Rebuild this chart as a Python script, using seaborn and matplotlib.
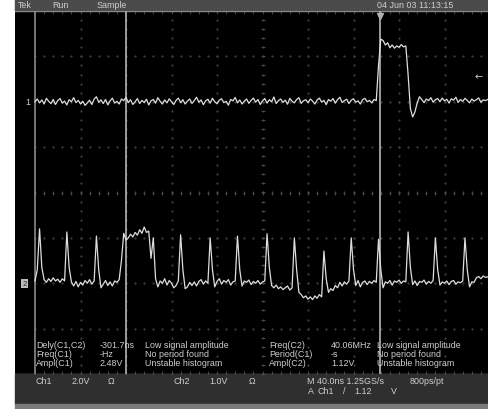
import numpy as np
import pandas as pd
import seaborn as sns
import matplotlib.pyplot as plt
from matplotlib.patches import Rectangle
from matplotlib import font_manager

# scope settings (Tek screen capture)
ns_per_div = 40.0
t0_ns = -200.0
dt_ns = 2.0
ch1_v_per_div, ch1_pos_div = 2.0, 2.0
ch2_v_per_div, ch2_pos_div = 1.0, -2.0
trigger_level_v = 1.12
cursor_t_ns = [-120.0, 103.3]
trigger_t_ns = 103.3

# Ch1 record (volts), one sample every 2 ns from -200 ns
ch1_volts = [
    0.0, 0.12, -0.05, 0.08, -0.1, 0.15, 0.02, -0.08, 0.1, -0.12,
    0.05, 0.14, -0.06, 0.03, -0.14, 0.09, 0.0, 0.18, -0.04, 0.06,
    -0.1, 0.02, -0.16, -0.05, 0.07, -0.12, 0.12, 0.22, -0.02, 0.08,
    -0.08, 0.1, -0.14, 0.04, 0.16, -0.06, 0.02, -0.1, 0.12, 0.05,
    0.2, -0.04, 0.09, -0.12, 0.0, 0.14, -0.08, 0.06, -0.03, 0.11,
    -0.14, 0.04, 0.1, -0.06, 0.18, 0.02, -0.1, 0.08, -0.05, 0.13,
    0.0, -0.12, 0.06, 0.16, -0.04, 0.09, -0.1, 0.03, 0.12, -0.07,
    0.05, 0.2, -0.02, 0.08, -0.13, 0.04, 0.11, -0.06, 0.15, 0.0,
    -0.09, 0.07, 0.13, -0.04, 0.02, -0.15, 0.1, 0.04, 0.19, -0.05,
    0.08, -0.1, 0.03, 0.12, -0.07, 0.06, 0.16, -0.02, 0.1, -0.12,
    0.04, 0.14, -0.06, 0.09, 0.0, 0.21, -0.08, 0.05, 0.12, -0.03,
    0.07, -0.11, 0.15, 0.02, -0.05, 0.1, 0.18, -0.07, 0.04, 0.09,
    -0.04, 0.12, 0.03, -0.1, 0.08, 0.16, -0.02, 0.06, -0.13, 0.1,
    0.02, 0.14, -0.06, 0.09, 0.2, -0.03, 0.05, 0.11, -0.08, 0.07,
    0.13, -0.02, 0.04, -0.1, 0.09, 0.15, 0.0, 0.06, -0.05, 0.1,
    0.05, 1.6, 2.76, 2.7, 2.5, 2.6, 2.38, 2.5, 2.36, 2.46,
    2.4, 2.52, 2.42, 2.46, 1.2, -0.3, -0.67, -0.45, -0.05, 0.22,
    0.1, -0.04, 0.12, 0.05, 0.18, -0.02, 0.09, 0.14, 0.0, 0.16,
    0.04, 0.11, -0.06, 0.13, 0.07, 0.2, -0.03, 0.1, 0.02, 0.15,
    0.06, -0.05, 0.12, 0.03, 0.09, 0.17, -0.02, 0.08, 0.05, 0.1,
]

# Ch2 record (volts)
ch2_volts = [
    0.05, 0.3, 1.2, 0.35, 0.08, 0.02, 0.1, 0.04, 0.12, 0.05,
    0.09, 0.02, 0.1, 0.05, 1.13, 0.35, 0.03, -0.06, 0.04, -0.08,
    0.02, -0.04, 0.06, 0.0, 0.08, -0.02, 0.05, 1.04, 0.3, -0.1,
    -0.02, 0.06, -0.05, 0.03, -0.06, 0.05, 0.02, 0.08, 0.5, 1.1,
    0.95, 1.0, 1.08, 1.02, 1.12, 1.06, 1.18, 1.1, 1.24, 1.12,
    1.15, 0.55, 1.0, 0.1, -0.08, 0.05, 0.0, 0.1, -0.04, 0.06,
    0.0, -0.1, -0.05, 0.05, 1.07, 0.3, -0.12, -0.08, 0.02, -0.05,
    0.03, -0.06, 0.04, 0.08, -0.02, 0.05, 0.0, 1.0, 0.3, -0.08,
    0.04, 0.1, -0.02, 0.06, 0.02, 0.08, -0.04, 0.03, 0.05, 1.04,
    0.3, -0.06, 0.05, 0.02, 0.07, -0.03, 0.04, 0.0, 0.06, -0.02,
    0.03, 0.05, 1.09, 0.35, -0.05, -0.1, -0.04, -0.12, -0.08, -0.14,
    -0.1, -0.06, -0.15, -0.1, 1.0, 0.3, -0.2, -0.25, -0.32, -0.28,
    -0.35, -0.3, -0.36, -0.28, -0.33, -0.25, -0.3, 0.71, 0.1, -0.2,
    -0.12, -0.16, -0.05, -0.1, 0.02, -0.06, 0.03, -0.02, 0.05, 1.0,
    0.3, -0.05, 0.06, -0.08, 0.02, 0.05, -0.03, 0.04, 0.0, 0.06,
    0.02, 0.97, 0.3, -0.1, 0.03, 0.0, 0.06, -0.04, 0.05, 0.02,
    0.07, 0.0, 0.05, 0.03, 1.13, 0.35, -0.03, 0.05, -0.05, 0.04,
    0.02, 0.07, -0.02, 0.04, 0.0, 0.06, 1.0, 0.3, -0.04, 0.03,
    0.0, 0.05, -0.03, 0.04, 0.06, -0.02, 0.03, 0.01, 0.05, 1.0,
    0.3, -0.08, 0.03, 0.02, 0.12, 0.15, 0.1, 0.16, 0.13, 0.14,
]

top_labels = ["Tek", "Run", "Sample"]
date_label = "04 Jun 03 11:13:15"
meas_left = [("Dely(C1,C2)", "-301.7ns", "Low signal amplitude"),
             ("Freq(C1)", "-Hz", "No period found"),
             ("Ampl(C1)", "2.48V", "Unstable histogram")]
meas_right = [("Freq(C2)", "40.06MHz", "Low signal amplitude"),
              ("Period(C1)", "-s", "No period found"),
              ("Ampl(C2)", "1.12V", "Unstable histogram")]

# ---- layout, in screen pixels ----
W, H = 488, 410
px_center_x, px_center_y = 262.5, 193.5
px_per_div_x, px_per_div_y = 45.5, 45.4

names = {f.name for f in font_manager.fontManager.ttflist}
font = "Liberation Sans Narrow" if "Liberation Sans Narrow" in names else "Liberation Sans"
plt.rcParams["font.family"] = [font, "DejaVu Sans"]

txt = "#cfcfcf"
trace = "#dedede"
grid = "#3c3c3c"
fs = 6.4


def fx(x):
    return x / W


def fy(y):
    return 1 - y / H


df = pd.DataFrame({"t_ns": t0_ns + dt_ns * np.arange(len(ch1_volts)),
                   "ch1": np.array(ch1_volts) / ch1_v_per_div + ch1_pos_div,
                   "ch2": np.array(ch2_volts) / ch2_v_per_div + ch2_pos_div})

fig = plt.figure(figsize=(W / 100, H / 100), dpi=100)
fig.patch.set_facecolor("white")

# bars around the screen
fig.add_artist(Rectangle((fx(15), fy(12)), fx(473), 12 / H, transform=fig.transFigure,
                         color="#4b4b4b", zorder=0))
fig.add_artist(Rectangle((fx(15), fy(405)), fx(473), 30 / H, transform=fig.transFigure,
                         color="#2f2f2f", zorder=0))
fig.add_artist(Rectangle((fx(15), 0), fx(473), 5 / H, transform=fig.transFigure,
                         color="#7a7a7a", zorder=0))

ax = fig.add_axes([fx(15), fy(375), fx(473), 363 / H])
ax.set_facecolor("black")
ax.set_xlim((15 - px_center_x) / px_per_div_x * ns_per_div,
            (488 - px_center_x) / px_per_div_x * ns_per_div)
ax.set_ylim(-4, 4)

# graticule
ys = np.arange(-4, 4.01, 0.2)
xs = np.arange(-5, 5.01, 0.2) * ns_per_div
for k in range(-4, 5):
    ax.plot([k * ns_per_div] * len(ys), ys, ls="none", marker="s", ms=0.6, color=grid)
for k in range(-3, 4):
    ax.plot(xs, [k] * len(xs), ls="none", marker="s", ms=0.6, color=grid)
ax.plot(xs, [0] * len(xs), ls="none", marker="|", ms=3, mew=0.6, color="#505050")
ax.plot([0] * len(ys), ys, ls="none", marker="_", ms=3, mew=0.6, color="#505050")
ax.plot(xs, [3.97] * len(xs), ls="none", marker="|", ms=2.5, mew=0.6, color="#505050")
ax.plot(xs, [-3.97] * len(xs), ls="none", marker="|", ms=2.5, mew=0.6, color="#505050")
ax.axhline(4, color="#8a8a8a", lw=1)
ax.axhline(-4, color="#8a8a8a", lw=1)
ax.axvline(-5 * ns_per_div, color="#8a8a8a", lw=1.2)
for c in cursor_t_ns:
    ax.axvline(c, color="#a8a8a8", lw=1.3)

sns.lineplot(data=df, x="t_ns", y="ch1", ax=ax, color=trace, lw=0.9,
             estimator=None, sort=False)
sns.lineplot(data=df, x="t_ns", y="ch2", ax=ax, color=trace, lw=0.9,
             estimator=None, sort=False)

# markers
ax.plot([trigger_t_ns], [3.88], marker="v", ms=4, color="#b0b0b0")
ax.text(4.74 * ns_per_div, ch1_pos_div + trigger_level_v / ch1_v_per_div, "\u2190",
        color=txt, fontsize=7, ha="center", va="center", family="DejaVu Sans")
ax.text(-206, ch1_pos_div, "1", color=txt, fontsize=fs, ha="center", va="center")
ax.text(-209, ch2_pos_div, "2", color="#222222", fontsize=5.5, ha="center", va="center",
        bbox=dict(boxstyle="square,pad=0.15", fc="#bdbdbd", ec="none"))

ax.set_xticks([])
ax.set_yticks([])
ax.set_xlabel("")
ax.set_ylabel("")
for s in ax.spines.values():
    s.set_visible(False)

# header text
for x, s in zip([18, 52, 97], top_labels):
    fig.text(fx(x), fy(6), s, color=txt, fontsize=fs, va="center")
fig.text(fx(377), fy(6), date_label, color=txt, fontsize=fs, va="center")

# measurement readout
for i, row in enumerate(meas_left):
    for x, s in zip([36, 100, 145], row):
        fig.text(fx(x), fy(346 + 9 * i), s, color=txt, fontsize=fs, va="center")
for i, row in enumerate(meas_right):
    for x, s in zip([269, 331, 377], row):
        fig.text(fx(x), fy(346 + 9 * i), s, color=txt, fontsize=fs, va="center")

# footer text
for x, s in [(36, "Ch1"), (72, "2.0V"), (108, "\u03a9"), (173, "Ch2"), (209, "1.0V"),
             (249, "\u03a9"), (307, "M 40.0ns 1.25GS/s"), (410, "800ps/pt")]:
    fig.text(fx(x), fy(382), s, color=txt, fontsize=fs, va="center")
for x, s in [(308, "A"), (317, "Ch1"), (343, "/"), (354, "1.12"), (391, "V")]:
    fig.text(fx(x), fy(392), s, color=txt, fontsize=fs, va="center")

fig.savefig("out.png", dpi=100, facecolor=fig.get_facecolor())
